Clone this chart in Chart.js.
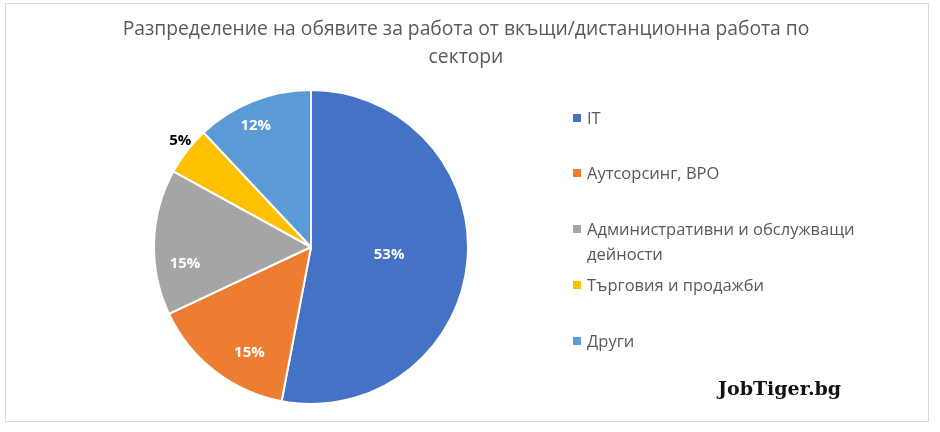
<!DOCTYPE html>
<html>
<head>
<meta charset="utf-8">
<script src="https://cdn.jsdelivr.net/npm/chart.js@4.4.1/dist/chart.umd.min.js"></script>
<style>
  html, body { margin: 0; padding: 0; background: #fff; }
  #wrap { position: relative; width: 940px; height: 432px; }
  #frame { position: absolute; left: 5px; top: 3px; width: 922px; height: 417px; border: 1px solid #d9d9d9; pointer-events: none; }
</style>
</head>
<body>
<div id="wrap">
  <canvas id="pieChart" width="940" height="432"></canvas>
  <div id="frame"></div>
</div>
<script>
const labels = [
  'IT',
  'Аутсорсинг, BPO',
  'Административни и обслужващи дейности',
  'Търговия и продажби',
  'Други'
];
const shares = [53, 15, 15, 5, 12];
const legendLines = [
  ['IT'],
  ['Аутсорсинг, BPO'],
  ['Административни и обслужващи', 'дейности'],
  ['Търговия и продажби'],
  ['Други']
];
const colors = ['#4472C4', '#ED7D31', '#A5A5A5', '#FFC000', '#5B9BD5'];
const chartTitle = ['Разпределение на обявите за работа от вкъщи/дистанционна работа по', 'сектори'];

// where each % label sits: share of radius, and turn (deg) off the slice middle
const labelRadius = [0.5, 0.78, 0.81, 1.075, 0.846];
const labelTurn = [0.5, -7.6, -9.5, 1.4, -3];
const labelColor = ['#fff', '#fff', '#fff', '#000', '#fff'];

const textGrey = '#595959';
const uiFont = '"Open Sans", "Noto Sans", sans-serif';

const decor = {
  id: 'decor',
  afterDatasetsDraw(chart) {
    const ctx = chart.ctx;
    const arcs = chart.getDatasetMeta(0).data;
    ctx.save();
    ctx.font = 'bold 15px ' + uiFont;
    ctx.textAlign = 'center';
    ctx.textBaseline = 'middle';
    arcs.forEach((arc, i) => {
      const p = arc.getProps(['x', 'y', 'startAngle', 'endAngle', 'outerRadius'], true);
      const mid = (p.startAngle + p.endAngle) / 2 + labelTurn[i] * Math.PI / 180;
      const r = p.outerRadius * labelRadius[i];
      ctx.fillStyle = labelColor[i];
      ctx.fillText(shares[i] + '%', p.x + Math.cos(mid) * r, p.y + Math.sin(mid) * r);
    });
    ctx.restore();
  },
  afterDraw(chart) {
    const ctx = chart.ctx;
    ctx.save();
    // title
    ctx.fillStyle = textGrey;
    ctx.font = '19.3px ' + uiFont;
    ctx.textAlign = 'center';
    ctx.textBaseline = 'middle';
    ctx.fillText(chartTitle[0], 466, 30);
    ctx.fillText(chartTitle[1], 466, 58);

    // legend
    const rows = [[118], [173], [229, 254], [285], [341]];
    ctx.font = '16.5px ' + uiFont;
    ctx.textAlign = 'left';
    legendLines.forEach((lines, i) => {
      ctx.fillStyle = colors[i];
      ctx.fillRect(573, rows[i][0] - 4, 8, 8);
      ctx.fillStyle = textGrey;
      lines.forEach((t, j) => ctx.fillText(t, 587, rows[i][j] + 1));
    });

    // watermark
    ctx.fillStyle = '#111';
    ctx.font = 'bold 19px "DejaVu Serif", "Liberation Serif", serif';
    ctx.textAlign = 'left';
    ctx.fillText('JobTiger.bg', 718, 390);
    ctx.restore();
  }
};

const config = {
  type: 'pie',
  data: {
    labels: labels,
    datasets: [{
      data: shares,
      backgroundColor: colors,
      borderColor: '#fff',
      borderWidth: 2
    }]
  },
  options: {
    responsive: false,
    animation: false,
    layout: {
      padding: { left: 153, right: 471, top: 89, bottom: 27 }
    },
    plugins: {
      legend: { display: false },
      title: { display: false },
      tooltip: { enabled: false }
    }
  },
  plugins: [decor]
};

const myChart = new Chart(document.getElementById('pieChart'), config);
</script>
</body>
</html>
